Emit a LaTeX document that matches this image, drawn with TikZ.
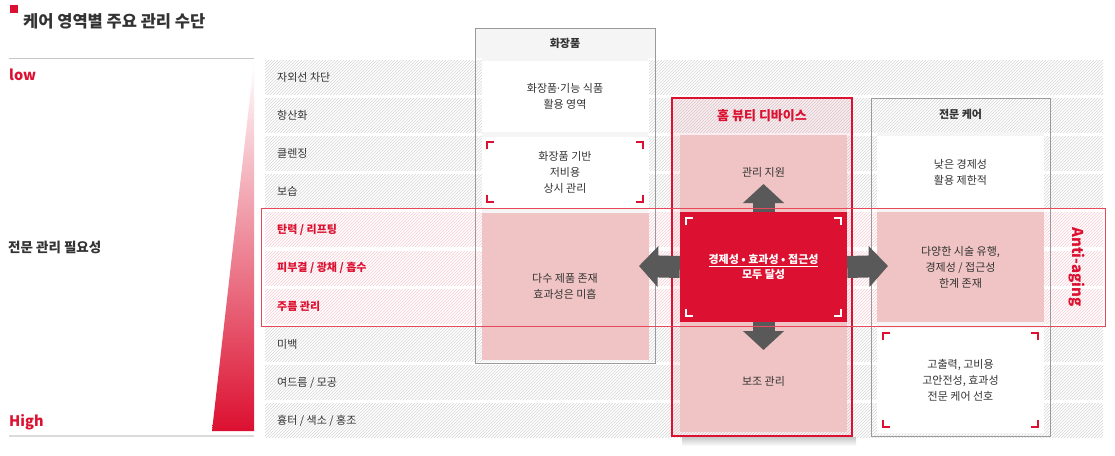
\documentclass[tikz,border=0pt]{standalone}
\usepackage{fontspec}
\setmainfont{Noto Sans CJK KR}
\newfontfamily\latinfont{Noto Sans}
\usepackage{tikz}
\usetikzlibrary{arrows.meta, patterns}
\definecolor{ckInk}{HTML}{333333}
\definecolor{ckRed}{HTML}{DC1030}
\definecolor{ckPink}{HTML}{F0C4C4}
\definecolor{ckArrow}{HTML}{595959}
\definecolor{ckFrame}{HTML}{9A9A9A}
\definecolor{ckMist}{HTML}{F5F5F5}
\definecolor{ckHatch}{HTML}{D6D6D6}
\definecolor{ckHatchHot}{HTML}{F7CDD3}
\definecolor{ckEdge}{HTML}{E9475A}
\newcommand{\corners}[2]{%
  \draw[#2, line width=1.8pt]
    ([shift={(6,13)}]#1.north west) -- ++(0,-7) -- ++(7,0)
    ([shift={(-6,13)}]#1.north east) -- ++(0,-7) -- ++(-7,0)
    ([shift={(6,-13)}]#1.south west) -- ++(0,7) -- ++(7,0)
    ([shift={(-6,-13)}]#1.south east) -- ++(0,7) -- ++(-7,0);
}
\tikzset{
  txt/.style={font=\fontsize{11}{16}\selectfont, text=ckInk, align=center, inner sep=0pt},
  txtb/.style={txt, font=\fontsize{11}{16}\selectfont\bfseries},
  band/.style={preaction={fill=white}, pattern=north east lines, pattern color=ckHatch},
  hotband/.style={preaction={fill=white}, pattern=north east lines, pattern color=ckHatchHot},
  rowlbl/.style={txt, anchor=west},
  hotlbl/.style={txtb, anchor=west, text=ckRed},
  cell/.style={txt, minimum width=167pt},
  whitecell/.style={cell, fill=white},
  pinkcell/.style={cell, fill=ckPink},
  keycell/.style={cell, fill=ckRed, text=white, font=\fontsize{11}{15}\selectfont\bfseries},
  column/.style={draw=ckFrame, line width=0.9pt, inner sep=0pt, minimum width=180pt},
  devcolumn/.style={column, draw=ckRed, line width=2pt, fill=ckRed, fill opacity=0.07},
  blockarrow/.style={draw=ckArrow, line width=22pt, -{Triangle[length=19pt, width=40pt]}},
  hilite/.style={draw=ckEdge, line width=1pt},
  side/.style={anchor=west, inner sep=0pt, font=\fontsize{14.5}{16}\selectfont\bfseries, text=ckRed},
}

\begin{document}
\begin{tikzpicture}[x=1pt, y=-1pt]
  \fill[white] (0,0) rectangle (1115,455);
  \useasboundingbox (0,0) rectangle (1115,455);

  \fill[ckRed] (10,5) rectangle (18,13);
  \node[anchor=west, inner sep=0pt, text=ckInk, font=\fontsize{16.5}{18}\selectfont\bfseries] (title) at (23,21) {케어 영역별 주요 관리 수단};
  \draw[black!22, line width=1pt] (9,58) -- (254,58);
  \draw[black!14, line width=2pt] (9,436) -- (254,436);
  \shade[top color=white, bottom color=ckRed] (254,62) -- (254,431) -- (212,431) -- cycle;
  \node[side] (low) at (9,75) {low};
  \node[side] (high) at (9,422) {High};
  \node[anchor=west, inner sep=0pt, text=ckInk, font=\fontsize{13.5}{16}\selectfont\bfseries] (need) at (8,247) {전문 관리 필요성};

  \fill[white] (261,208) rectangle (1105,326);
  \foreach \lbl [count=\i from 0] in {자외선 차단, 항산화, 클렌징, 보습, 탄력 / 리프팅, 피부결 / 광채 / 흡수, 주름 관리, 미백, 여드름 / 모공, 흉터 / 색소 / 홍조} {
    \pgfmathsetmacro\ry{60+38.2*\i}
    \ifnum\i>3 \ifnum\i<7 \def\rs{hotband}\def\ls{hotlbl}\else\def\rs{band}\def\ls{rowlbl}\fi
    \else\def\rs{band}\def\ls{rowlbl}\fi
    \path[\rs] (265,\ry) rectangle ++(838,34);
    \node[\ls] (row\i) at (277,\ry+17) {\lbl};
  }

  \node[txtb, fill=ckMist, minimum width=179pt, minimum height=29pt] (cosHd) at (565,43.5) {화장품};
  \fill[ckMist] (482,58) rectangle (648,362);
  \node[whitecell, minimum height=71pt] (cosTop) at (565,96) {화장품{\latinfont·}기능 식품\\활용 영역};
  \node[whitecell, minimum height=71pt] (cosMid) at (565,172) {화장품 기반\\저비용\\상시 관리};
  \node[pinkcell, minimum height=147pt] (cosLow) at (565,286) {다수 제품 존재\\효과성은 미흡};
  \node[column, minimum height=335pt] (cosCol) at (565,195.5) {};
  \corners{cosMid}{ckRed}

  \fill[ckMist] (877,132) rectangle (1044,434);
  \node[whitecell, minimum height=72pt] (proTop) at (960.5,172) {낮은 경제성\\활용 제한적};
  \node[pinkcell, minimum height=110pt] (proMid) at (960.5,267) {다양한 시술 유행,\\경제성 / 접근성\\한계 존재};
  \node[whitecell, minimum height=105pt] (proLow) at (960.5,380) {고출력, 고비용\\고안전성, 효과성\\전문 케어 선호};
  \node[column, minimum width=179pt, minimum height=338pt] (proCol) at (960.5,267) {};
  \node[txtb] (proHd) at (960.5,114) {전문 케어};
  \corners{proLow}{ckRed}

  \shade[top color=black!22, bottom color=white] (682,437) rectangle (856,446);
  \node[devcolumn, minimum height=338pt] (devCol) at (762,267) {};
  \node[txtb, text=ckRed, font=\fontsize{13}{16}\selectfont\bfseries] (devHd) at (762,116) {홈 뷰티 디바이스};
  \node[pinkcell, minimum height=297pt] (devBack) at (763.5,283.5) {};
  \node[txt] (devUp) at (763.5,172) {관리 지원};
  \node[txt] (devDown) at (763.5,381) {보조 관리};
  \coordinate (tipUp) at (763.5,184);
  \coordinate (tipDown) at (763.5,350);
  \coordinate (tipLeft) at (639,266);
  \coordinate (tipRight) at (888,266);
  \node[keycell, minimum height=110pt] (key) at (763.5,267) {\underline{경제성 • 효과성 • 접근성}\\모두 달성};
  \draw[blockarrow] (key.north) -- (tipUp);
  \draw[blockarrow] (key.south) -- (tipDown);
  \draw[blockarrow] (key.west) -- (tipLeft);
  \draw[blockarrow] (key.east) -- (tipRight);
  \corners{key}{white}

  \draw[hilite] (261,208) rectangle (1105,326);
  \node[rotate=-90, inner sep=0pt, font=\fontsize{15}{18}\selectfont\bfseries, text=ckRed] (anti) at (1077,267) {Anti-aging};
\end{tikzpicture}
\end{document}
